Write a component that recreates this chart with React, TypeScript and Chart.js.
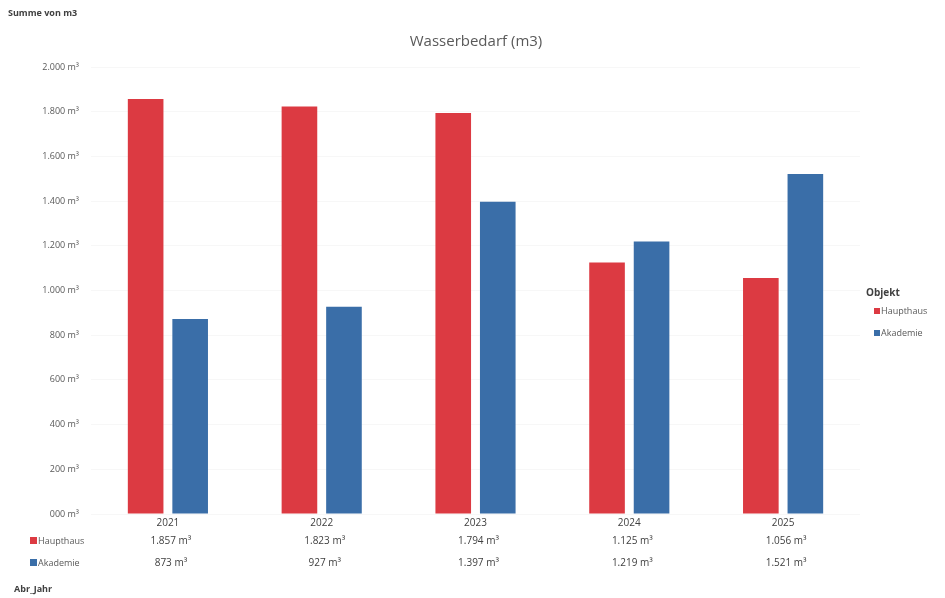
import React, { useEffect, useRef } from "react";
import { Chart, registerables } from "chart.js";

Chart.register(...registerables);

const years = ["2021", "2022", "2023", "2024", "2025"];
const haupthaus = [1857, 1823, 1794, 1125, 1056];
const akademie = [873, 927, 1397, 1219, 1521];
const seriesNames = ["Haupthaus", "Akademie"];
const yTickValues = [0, 200, 400, 600, 800, 1000, 1200, 1400, 1600, 1800, 2000];
const yTickLabels = ["000 m³", "200 m³", "400 m³", "600 m³", "800 m³", "1.000 m³", "1.200 m³", "1.400 m³", "1.600 m³", "1.800 m³", "2.000 m³"];
const titleText = "Wasserbedarf (m3)";
const fieldLabel = "Summe von m3";
const axisFieldLabel = "Abr_Jahr";
const legendTitle = "Objekt";

const RED = "#dc3a42";
const BLUE = "#3a6ea8";
const FONT = "'Open Sans', 'Liberation Sans', sans-serif";

function fmt(v: number): string {
  const s = String(Math.round(v));
  const withDots = s.replace(/\B(?=(\d{3})+(?!\d))/g, ".");
  return withDots + " m³";
}

const overlay = {
  id: "overlay",
  afterDraw(chart: any) {
    const ctx = chart.ctx as CanvasRenderingContext2D;
    const x = chart.scales.x;
    ctx.save();
    ctx.textBaseline = "middle";
    // Title
    ctx.fillStyle = "#595959";
    ctx.font = `15px ${FONT}`;
    ctx.textAlign = "center";
    ctx.fillText(titleText, 476, 42);
    // Field labels
    ctx.fillStyle = "#404040";
    ctx.font = `bold 9px ${FONT}`;
    ctx.textAlign = "left";
    ctx.fillText(fieldLabel, 8, 13);
    ctx.fillText(axisFieldLabel, 14, 589);
    // Right legend
    ctx.font = `bold 10px ${FONT}`;
    ctx.fillText(legendTitle, 866, 293);
    ctx.font = `9px ${FONT}`;
    ctx.fillStyle = RED;
    ctx.fillRect(874, 308, 6, 6);
    ctx.fillStyle = "#595959";
    ctx.fillText(seriesNames[0], 881, 311);
    ctx.fillStyle = BLUE;
    ctx.fillRect(874, 330, 6, 6);
    ctx.fillStyle = "#595959";
    ctx.fillText(seriesNames[1], 881, 333);
    // Data table
    const rows = [
      { name: seriesNames[0], color: RED, data: haupthaus, y: 541 },
      { name: seriesNames[1], color: BLUE, data: akademie, y: 563 },
    ];
    rows.forEach((r) => {
      ctx.fillStyle = r.color;
      ctx.fillRect(30, r.y - 4, 7, 7);
      ctx.fillStyle = "#595959";
      ctx.font = `9px ${FONT}`;
      ctx.textAlign = "left";
      ctx.fillText(r.name, 38, r.y);
      ctx.fillStyle = "#404040";
      ctx.font = `10px ${FONT}`;
      ctx.textAlign = "center";
      r.data.forEach((v, i) => {
        ctx.fillText(fmt(v), x.getPixelForValue(i) + 3, r.y);
      });
    });
    ctx.restore();
  },
};

export default function App() {
  const ref = useRef<HTMLCanvasElement>(null);
  useEffect(() => {
    document.body.style.margin = "0";
    const chart = new Chart(ref.current!, {
      type: "bar",
      data: {
        labels: years,
        datasets: [
          { label: seriesNames[0], data: haupthaus, backgroundColor: RED, categoryPercentage: 0.579, barPercentage: 0.8 },
          { label: seriesNames[1], data: akademie, backgroundColor: BLUE, categoryPercentage: 0.579, barPercentage: 0.8 },
        ],
      },
      options: {
        animation: false,
        responsive: false,
        maintainAspectRatio: false,
        layout: { padding: { left: 0, right: 85, top: 67, bottom: 64 } },
        plugins: { legend: { display: false }, title: { display: false }, tooltip: { enabled: false } },
        scales: {
          x: {
            grid: { display: false, drawTicks: false },
            border: { display: false },
            ticks: { color: "#404040", font: { family: FONT, size: 10 }, padding: 3 },
            afterFit: (s: any) => { s.height = 20; },
          },
          y: {
            min: 0,
            max: 2000,
            afterBuildTicks: (s: any) => { s.ticks = yTickValues.map((v) => ({ value: v })); },
            afterFit: (s: any) => { s.width = 91; },
            grid: { color: "rgba(0,0,0,0.03)", drawTicks: false },
            border: { display: false },
            ticks: {
              color: "#595959",
              font: { family: FONT, size: 9 },
              padding: 12,
              callback: (v: any) => {
                const idx = yTickValues.indexOf(Number(v));
                return idx >= 0 ? yTickLabels[idx] : "";
              },
            },
          },
        },
      },
      plugins: [overlay],
    });
    return () => chart.destroy();
  }, []);
  return (
    <div style={{ position: "absolute", left: 0, top: 0, width: 945, height: 598, background: "#fff" }}>
      <canvas ref={ref} width={945} height={598} style={{ width: 945, height: 598 }} />
    </div>
  );
}
